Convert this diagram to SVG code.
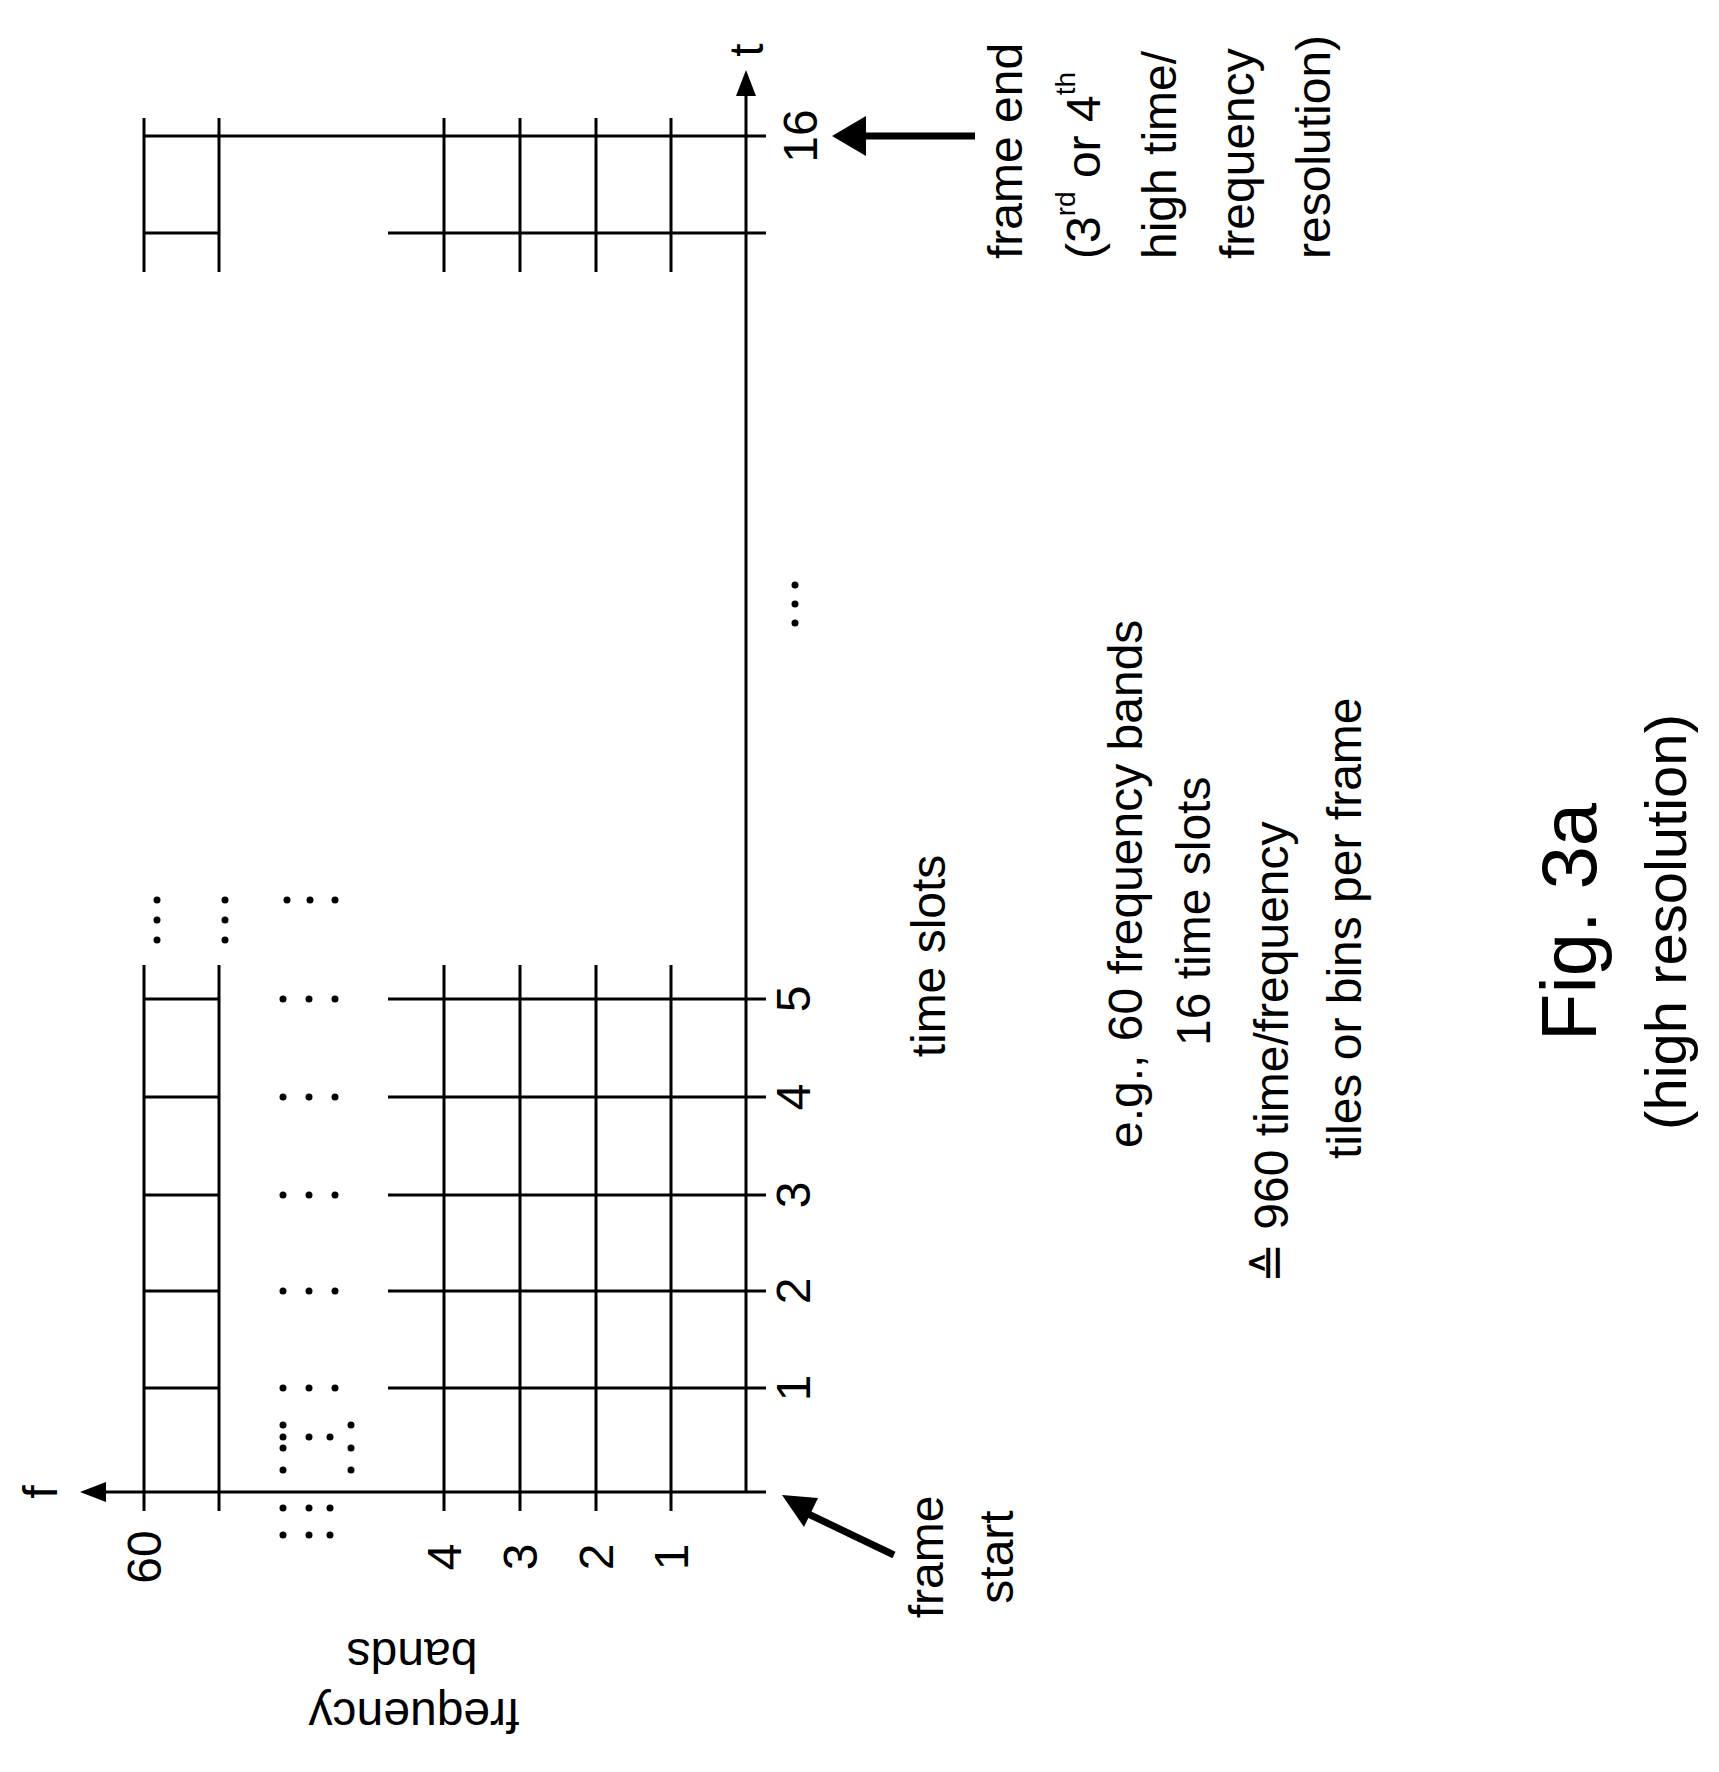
<svg xmlns="http://www.w3.org/2000/svg" width="1719" height="1772" viewBox="0 0 1719 1772">
<style>
.l{stroke:#000;stroke-width:3;fill:none}
.ax{stroke:#000;stroke-width:3;fill:none}
.ar{stroke:#000;stroke-width:7;fill:none}
text{font-family:"Liberation Sans Narrow","Liberation Sans",Arial,sans-serif;font-size:48px;fill:#000}
.d{fill:#000}
</style>
<rect width="1719" height="1772" fill="#fff"/>
<g id="connectors">
<line class="ax" x1="746" y1="1492" x2="746" y2="90"/>
<polygon points="746,70 736,96 756,96"/>
<line class="ax" x1="766" y1="1492" x2="100" y2="1492"/>
<polygon points="80,1492 106,1482 106,1502"/>
<line class="ar" x1="975" y1="136" x2="860" y2="136"/>
<polygon points="832,136 866,116 866,156"/>
<line class="ar" x1="894" y1="1555" x2="800" y2="1510"/>
<polygon points="782,1495 818,1498 804,1527"/>
</g>
<g id="grid">
<g class="l">
<line x1="144" y1="1511" x2="144" y2="965"/>
<line x1="219" y1="1511" x2="219" y2="965"/>
<line x1="444" y1="1511" x2="444" y2="965"/>
<line x1="520" y1="1511" x2="520" y2="965"/>
<line x1="596" y1="1511" x2="596" y2="965"/>
<line x1="671" y1="1511" x2="671" y2="965"/>
<line x1="144" y1="272" x2="144" y2="118"/>
<line x1="219" y1="272" x2="219" y2="118"/>
<line x1="444" y1="272" x2="444" y2="118"/>
<line x1="520" y1="272" x2="520" y2="118"/>
<line x1="596" y1="272" x2="596" y2="118"/>
<line x1="671" y1="272" x2="671" y2="118"/>
<path d="M144 1388H219M388 1388H766M144 1291H219M388 1291H766M144 1195H219M388 1195H766M144 1097H219M388 1097H766M144 999H219M388 999H766M144 233H219M388 233H766M144 136H766"/>
</g>
<g class="d">
<circle cx="283" cy="1425" r="3.5"/><circle cx="283" cy="1437" r="3.5"/><circle cx="283" cy="1448" r="3.5"/><circle cx="283" cy="1470" r="3.5"/>
<circle cx="309" cy="1437" r="3.5"/><circle cx="330" cy="1437" r="3.5"/>
<circle cx="351" cy="1425" r="3.5"/><circle cx="351" cy="1448" r="3.5"/><circle cx="351" cy="1470" r="3.5"/>
<circle cx="283" cy="1508" r="3.5"/><circle cx="309" cy="1508" r="3.5"/><circle cx="330" cy="1508" r="3.5"/>
<circle cx="283" cy="1535" r="3.5"/><circle cx="309" cy="1535" r="3.5"/><circle cx="330" cy="1535" r="3.5"/>
<circle cx="283" cy="1388" r="3.5"/><circle cx="309" cy="1388" r="3.5"/><circle cx="335" cy="1388" r="3.5"/>
<circle cx="283" cy="1291" r="3.5"/><circle cx="309" cy="1291" r="3.5"/><circle cx="335" cy="1291" r="3.5"/>
<circle cx="283" cy="1195" r="3.5"/><circle cx="309" cy="1195" r="3.5"/><circle cx="335" cy="1195" r="3.5"/>
<circle cx="283" cy="1097" r="3.5"/><circle cx="309" cy="1097" r="3.5"/><circle cx="335" cy="1097" r="3.5"/>
<circle cx="283" cy="999" r="3.5"/><circle cx="309" cy="999" r="3.5"/><circle cx="335" cy="999" r="3.5"/>
<circle cx="157" cy="900" r="3.5"/><circle cx="157" cy="920" r="3.5"/><circle cx="157" cy="940" r="3.5"/>
<circle cx="225" cy="900" r="3.5"/><circle cx="225" cy="920" r="3.5"/><circle cx="225" cy="940" r="3.5"/>
<circle cx="287" cy="900" r="3.5"/><circle cx="310" cy="900" r="3.5"/><circle cx="335" cy="900" r="3.5"/>
<circle cx="795" cy="585" r="3.5"/><circle cx="795" cy="604" r="3.5"/><circle cx="795" cy="623" r="3.5"/>
</g>
</g>
<g id="labels" text-anchor="middle" dominant-baseline="central">
<text transform="translate(746,50) rotate(-90)">t</text>
<text transform="translate(40,1492) rotate(-90)">f</text>
<text transform="translate(144,1557) rotate(-90)">60</text>
<text transform="translate(444,1557) rotate(-90)">4</text>
<text transform="translate(520,1557) rotate(-90)">3</text>
<text transform="translate(596,1557) rotate(-90)">2</text>
<text transform="translate(671,1557) rotate(-90)">1</text>
<text transform="translate(793,1388) rotate(-90)">1</text>
<text transform="translate(793,1291) rotate(-90)">2</text>
<text transform="translate(793,1195) rotate(-90)">3</text>
<text transform="translate(793,1097) rotate(-90)">4</text>
<text transform="translate(793,999) rotate(-90)">5</text>
<text transform="translate(800,136) rotate(-90)">16</text>
<text transform="translate(926,1557) rotate(-90)">frame</text>
<text transform="translate(996,1557) rotate(-90)">start</text>
<text transform="translate(414,1715) rotate(180)">frequency</text>
<text transform="translate(412,1655) rotate(180)">bands</text>
<text transform="translate(928,956) rotate(-90)">time slots</text>
</g>
<g id="notes" dominant-baseline="central">
<text transform="translate(1005,259) rotate(-90)">frame end</text>
<text transform="translate(1083,259) rotate(-90)">(3<tspan font-size="28" dy="-18">rd</tspan><tspan dy="18"> or 4</tspan><tspan font-size="28" dy="-18">th</tspan></text>
<text transform="translate(1159,259) rotate(-90)">high time/</text>
<text transform="translate(1237,259) rotate(-90)">frequency</text>
<text transform="translate(1313,259) rotate(-90)">resolution)</text>
<text transform="translate(1125,1148) rotate(-90)">e.g., 60 frequency bands</text>
<text transform="translate(1193,1046) rotate(-90)">16 time slots</text>
<text transform="translate(1271,1283) rotate(-90)">≙  960 time/frequency</text>
<text transform="translate(1344,1159) rotate(-90)">tiles or bins per frame</text>
<text text-anchor="middle" font-size="78" style="font-size:78px" transform="translate(1569,922) rotate(-90)">Fig. 3a</text>
<text text-anchor="middle" style="font-size:58px" transform="translate(1665,922) rotate(-90)">(high resolution)</text>
</g>
</svg>
